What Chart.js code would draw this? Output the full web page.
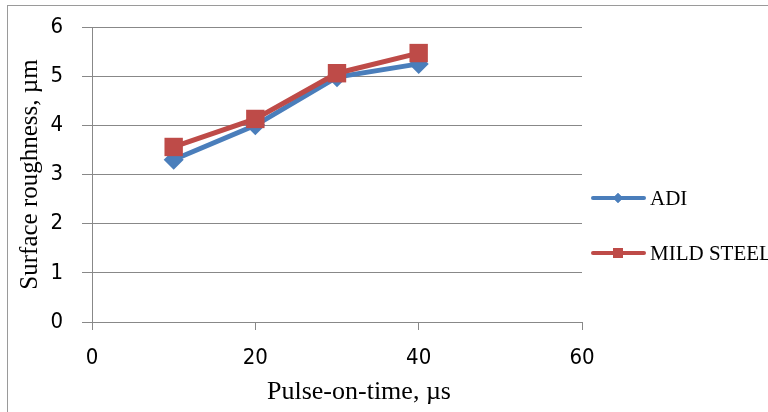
<!DOCTYPE html>
<html>
<head>
<meta charset="utf-8">
<title>Surface roughness vs pulse-on-time</title>
<script src="https://cdn.jsdelivr.net/npm/chart.js@4.4.1/dist/chart.umd.min.js"></script>
<style>
  html, body { margin: 0; padding: 0; background: #fff; }
  #wrap { width: 768px; height: 412px; position: relative; }
</style>
</head>
<body>
<div id="wrap"><canvas id="roughnessChart" width="768" height="412"></canvas></div>
<script>
// pulse-on-time (µs) and measured surface roughness (µm)
const pulseOnTime = [10, 20, 30, 40];
const adiRoughness = [3.3, 4.0, 4.98, 5.25];
const mildSteelRoughness = [3.56, 4.13, 5.06, 5.47];
const xTicks = [0, 20, 40, 60];
const yTicks = [0, 1, 2, 3, 4, 5, 6];

const BLUE = '#4A7EBB';
const RED = '#BE4B48';
const GRID = '#888888';
const SERIF = '"Liberation Serif", "Times New Roman", serif';
const NARROW = '"Liberation Sans Narrow", "DejaVu Sans Condensed", sans-serif';

const toPoints = (xs, ys) => xs.map((x, i) => ({ x: x, y: ys[i] }));

// outer frame of the chart object
const framePlugin = {
    id: 'frame',
    beforeDraw(chart) {
        const ctx = chart.ctx;
        ctx.save();
        ctx.strokeStyle = '#9a9a9a';
        ctx.lineWidth = 1;
        ctx.strokeRect(7.5, 5.5, 900, 500);
        ctx.restore();
    }
};

// x axis title, sitting a little right of the plot centre
const xTitle = {
    id: 'xTitle',
    afterDraw(chart) {
        const ctx = chart.ctx;
        ctx.save();
        ctx.fillStyle = '#000';
        ctx.font = '26px ' + SERIF;
        ctx.textAlign = 'center';
        ctx.textBaseline = 'middle';
        ctx.fillText('Pulse-on-time, µs', 359, 392);
        ctx.restore();
    }
};

// legend with line + marker samples, stacked on the right
const sideLegend = {
    id: 'sideLegend',
    afterDraw(chart) {
        const ctx = chart.ctx;
        const items = [
            { label: 'ADI', color: BLUE, style: 'rectRot', radius: 5, y: 198 },
            { label: 'MILD STEEL', color: RED, style: 'rect', radius: 7, y: 253 }
        ];
        ctx.save();
        items.forEach(item => {
            ctx.strokeStyle = item.color;
            ctx.lineWidth = 4;
            ctx.lineCap = 'round';
            ctx.beginPath();
            ctx.moveTo(593, item.y);
            ctx.lineTo(644, item.y);
            ctx.stroke();
            ctx.fillStyle = item.color;
            Chart.helpers.drawPoint(ctx, { pointStyle: item.style, radius: item.radius, borderWidth: 0 }, 618, item.y);
            ctx.fill();
            ctx.fillStyle = '#000';
            ctx.font = '21px ' + SERIF;
            ctx.textBaseline = 'middle';
            ctx.fillText(item.label, 650, item.y + 1);
        });
        ctx.restore();
    }
};

new Chart(document.getElementById('roughnessChart'), {
    type: 'line',
    data: {
        datasets: [{
            label: 'ADI',
            data: toPoints(pulseOnTime, adiRoughness),
            borderColor: BLUE,
            backgroundColor: BLUE,
            borderWidth: 5,
            pointStyle: 'rectRot',
            pointRadius: 10,
            pointBorderWidth: 0,
            order: 1
        }, {
            label: 'MILD STEEL',
            data: toPoints(pulseOnTime, mildSteelRoughness),
            borderColor: RED,
            backgroundColor: RED,
            borderWidth: 5,
            pointStyle: 'rect',
            pointRadius: 13,
            pointBorderWidth: 0,
            order: 0
        }]
    },
    options: {
        responsive: false,
        animation: false,
        layout: { padding: { top: 27, right: 186, left: 0, bottom: 0 } },
        plugins: {
            legend: { display: false },
            tooltip: { enabled: false }
        },
        scales: {
            x: {
                type: 'linear',
                min: 0,
                max: 60,
                afterBuildTicks: axis => { axis.ticks = xTicks.map(v => ({ value: v })); },
                afterFit: axis => { axis.height = 90; axis.paddingLeft = 0; axis.paddingRight = 0; },
                grid: { drawOnChartArea: false, color: GRID, tickLength: 8 },
                border: { color: GRID, width: 1 },
                ticks: {
                    color: '#000',
                    padding: 15,
                    font: { family: NARROW, size: 22 }
                }
            },
            y: {
                min: 0,
                max: 6,
                afterBuildTicks: axis => { axis.ticks = yTicks.map(v => ({ value: v })); },
                afterFit: axis => { axis.width = 92; axis.paddingTop = 0; axis.paddingBottom = 0; },
                grid: { color: GRID, tickLength: 10 },
                border: { color: GRID, width: 1 },
                ticks: {
                    color: '#000',
                    padding: 19,
                    font: { family: NARROW, size: 22 }
                },
                title: {
                    display: true,
                    text: 'Surface roughness, µm',
                    color: '#000',
                    padding: { top: 15, bottom: 0 },
                    font: { family: SERIF, size: 25 }
                }
            }
        }
    },
    plugins: [framePlugin, xTitle, sideLegend]
});
</script>
</body>
</html>
